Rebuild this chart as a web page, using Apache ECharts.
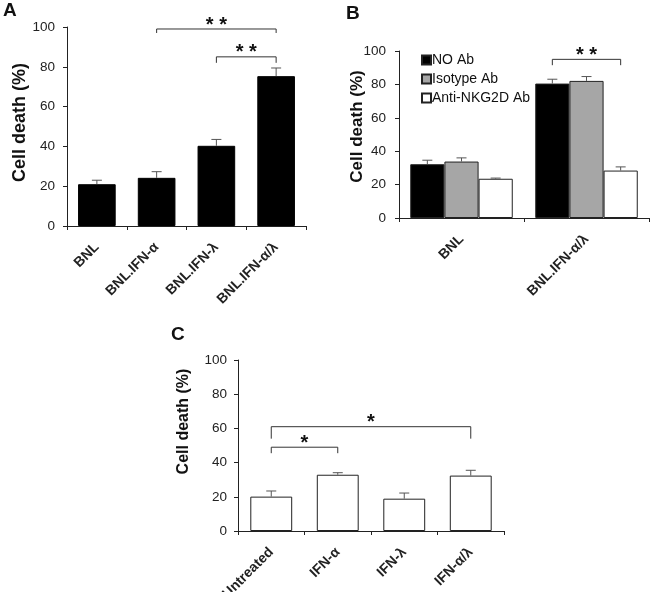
<!DOCTYPE html>
<html>
<head>
<meta charset="utf-8">
<script src="https://cdn.jsdelivr.net/npm/echarts@6/dist/echarts.min.js"></script>
<style>html,body{margin:0;padding:0;background:#fff;}#c{width:650px;height:592px;}</style>
</head>
<body>
<div id="c"></div>
<script>
// ---- Panel A data ----
var catsA = ['BNL', 'BNL.IFN-α', 'BNL.IFN-λ', 'BNL.IFN-α/λ'];
var valsA = [21, 24.2, 40.3, 75.3];
var errA = [2.0, 3.1, 3.2, 4.1];
// bracket: [fromIdx, toIdx, yTop, yLegEnd, label]
var bracketsA = [[1, 3, 99, 97, '* *'], [2, 3, 85, 82, '* *']];

// ---- Panel B data ----
var catsB = ['BNL', 'BNL.IFN-α/λ'];
var seriesNamesB = ['NO Ab', 'Isotype Ab', 'Anti-NKG2D Ab'];
var noAbB = [32.2, 80.5];
var noAbErrB = [2.4, 2.6];
var isoAbB = [33.8, 82.1];
var isoAbErrB = [2.2, 2.6];
var antiB = [23.5, 28.4];
var antiErrB = [0.4, 2.2];
// [groupIdx, fromSeries, toSeries, yTop, yLegEnd, label]
var bracketsB = [[1, 0, 2, 95, 91.5, '* *']];

// ---- Panel C data ----
var catsC = ['Untreated', 'IFN-α', 'IFN-λ', 'IFN-α/λ'];
var valsC = [20.1, 32.9, 18.9, 32.4];
var errC = [3.3, 1.2, 3.3, 3.1];
var bracketsC = [[0, 3, 61, 54, '*'], [0, 1, 49, 45.5, '*']];

var yTicks = [0, 20, 40, 60, 80, 100];

var FONT = 'Liberation Sans, Arial, sans-serif';
var chart = echarts.init(document.getElementById('c'), null, {renderer: 'canvas'});

function yAxis(gridIndex, nameGap, fontSize, shiftUp, labelMargin) {
  return {
    type: 'value', gridIndex: gridIndex, min: yTicks[0], max: yTicks[yTicks.length - 1], interval: yTicks[1] - yTicks[0],
    name: 'Cell death (%)', nameLocation: 'middle', nameGap: nameGap, nameMoveOverlap: false,
    nameTextStyle: {fontFamily: FONT, fontSize: fontSize, fontWeight: 'bold', color: '#111', padding: [0, 0, 0, shiftUp * 2]},
    axisLine: {show: true, lineStyle: {color: '#222', width: 1}},
    axisTick: {show: true, inside: false, length: 4, lineStyle: {color: '#222'}},
    axisLabel: {fontFamily: FONT, fontSize: 13.5, color: '#222', margin: labelMargin},
    splitLine: {show: false}
  };
}
function xAxis(gridIndex, cats) {
  return {
    type: 'category', gridIndex: gridIndex, data: cats,
    axisLine: {show: true, onZero: false, lineStyle: {color: '#222', width: 1}},
    axisTick: {show: true, inside: false, length: 4, alignWithLabel: false, lineStyle: {color: '#222'}},
    axisLabel: {fontFamily: FONT, fontSize: 14, fontWeight: 'bold', color: '#222', rotate: 45, margin: 19, interval: 0},
    splitLine: {show: false}
  };
}

// error bars: data [catIdx, value, err]; offset computed from band width
function errSeries(xi, yi, vals, errs, offsetFn) {
  return {
    type: 'custom', xAxisIndex: xi, yAxisIndex: yi, z: 5, silent: true,
    data: vals.map(function (v, i) { return [i, v, errs[i]]; }),
    renderItem: function (params, api) {
      var i = api.value(0), v = api.value(1), e = api.value(2);
      var band = api.size([1, 0])[0];
      var off = offsetFn ? offsetFn(band) : 0;
      var p0 = api.coord([i, v]);
      var p1 = api.coord([i, v + e]);
      var x = p0[0] + off;
      var cap = 5;
      return {
        type: 'group', children: [
          {type: 'line', shape: {x1: x, y1: p0[1], x2: x, y2: p1[1]}, style: {stroke: '#555', lineWidth: 1}},
          {type: 'line', shape: {x1: x - cap, y1: p1[1], x2: x + cap, y2: p1[1]}, style: {stroke: '#555', lineWidth: 1}}
        ]
      };
    }
  };
}

function bracketShape(x1, x2, yT, yL, label, fontSize) {
  return {
    type: 'group', children: [
      {type: 'polyline', shape: {points: [[x1, yL], [x1, yT], [x2, yT], [x2, yL]]}, style: {stroke: '#333', lineWidth: 1, fill: null}},
      {type: 'text', x: (x1 + x2) / 2, y: yT + fontSize * 0.3, style: {text: label, font: 'bold ' + fontSize + 'px ' + FONT, fill: '#111', align: 'center', verticalAlign: 'bottom'}}
    ]
  };
}

// brackets between categories: data [fromIdx, toIdx, yTop, yLegEnd, label]
function bracketSeries(xi, yi, brackets, fontSize) {
  return {
    type: 'custom', xAxisIndex: xi, yAxisIndex: yi, z: 6, silent: true, clip: false,
    data: brackets.map(function (b) { return [b[0], b[1], b[2], b[3]]; }),
    renderItem: function (params, api) {
      var b = brackets[params.dataIndex];
      var a = api.coord([b[0], b[2]]);
      var c = api.coord([b[1], b[2]]);
      var leg = api.coord([b[0], b[3]]);
      return bracketShape(a[0], c[0], a[1], leg[1], b[4], fontSize);
    }
  };
}

// Panel B grouped bar layout
var gapB = 0.18;
function offB(k, band) { var gw = band * (1 - gapB); var bw = gw / 3; return -gw / 2 + bw * (k + 0.5); }

function bracketSeriesB(xi, yi, brackets, fontSize) {
  return {
    type: 'custom', xAxisIndex: xi, yAxisIndex: yi, z: 6, silent: true, clip: false,
    data: brackets.map(function (b) { return [b[0], b[3], b[4]]; }),
    renderItem: function (params, api) {
      var b = brackets[params.dataIndex];
      var band = api.size([1, 0])[0];
      var a = api.coord([b[0], b[3]]);
      var leg = api.coord([b[0], b[4]]);
      return bracketShape(a[0] + offB(b[1], band), a[0] + offB(b[2], band), a[1], leg[1], b[5], fontSize);
    }
  };
}

var option = {
  animation: false,
  backgroundColor: '#fff',
  textStyle: {fontFamily: FONT},
  graphic: [
    {type: 'text', left: 3, top: 1, style: {text: 'A', font: 'bold 19px ' + FONT, fill: '#111'}},
    {type: 'text', left: 346, top: 4, style: {text: 'B', font: 'bold 19px ' + FONT, fill: '#111'}},
    {type: 'text', left: 171, top: 325, style: {text: 'C', font: 'bold 19px ' + FONT, fill: '#111'}}
  ],
  legend: {
    data: seriesNamesB, orient: 'vertical', left: 416, top: 48,
    itemWidth: 9, itemHeight: 9, itemGap: 5, icon: 'rect',
    textStyle: {fontFamily: FONT, fontSize: 14, color: '#111', padding: [0, 0, 0, -4]},
    selectedMode: false
  },
  grid: [
    {left: 67, top: 27, width: 239, height: 199, outerBoundsMode: 'none', containLabel: false},
    {left: 399, top: 51, width: 250, height: 167, outerBoundsMode: 'none', containLabel: false},
    {left: 238, top: 360, width: 266, height: 171, outerBoundsMode: 'none', containLabel: false}
  ],
  xAxis: [xAxis(0, catsA), xAxis(1, catsB), xAxis(2, catsC)],
  yAxis: [yAxis(0, 38, 18, 4, 12), yAxis(1, 33, 17, 8, 13), yAxis(2, 46, 16, 24, 11)],
  series: [
    {type: 'bar', xAxisIndex: 0, yAxisIndex: 0, data: valsA, barCategoryGap: '37%',
      itemStyle: {color: '#000', borderColor: '#000', borderWidth: 1}},
    errSeries(0, 0, valsA, errA, null),
    bracketSeries(0, 0, bracketsA, 20),

    {type: 'bar', name: seriesNamesB[0], xAxisIndex: 1, yAxisIndex: 1, data: noAbB, barGap: '0%', barCategoryGap: '18%',
      itemStyle: {color: '#000', borderColor: '#222', borderWidth: 1}},
    {type: 'bar', name: seriesNamesB[1], xAxisIndex: 1, yAxisIndex: 1, data: isoAbB, barGap: '0%', barCategoryGap: '18%',
      itemStyle: {color: '#a6a6a6', borderColor: '#222', borderWidth: 1}},
    {type: 'bar', name: seriesNamesB[2], xAxisIndex: 1, yAxisIndex: 1, data: antiB, barGap: '0%', barCategoryGap: '18%',
      itemStyle: {color: '#fff', borderColor: '#222', borderWidth: 1}},
    errSeries(1, 1, noAbB, noAbErrB, function (band) { return offB(0, band); }),
    errSeries(1, 1, isoAbB, isoAbErrB, function (band) { return offB(1, band); }),
    errSeries(1, 1, antiB, antiErrB, function (band) { return offB(2, band); }),
    bracketSeriesB(1, 1, bracketsB, 20),

    {type: 'bar', xAxisIndex: 2, yAxisIndex: 2, data: valsC, barCategoryGap: '37%',
      itemStyle: {color: '#fff', borderColor: '#222', borderWidth: 1}},
    errSeries(2, 2, valsC, errC, null),
    bracketSeries(2, 2, bracketsC, 20)
  ]
};
chart.setOption(option);
</script>
</body>
</html>
